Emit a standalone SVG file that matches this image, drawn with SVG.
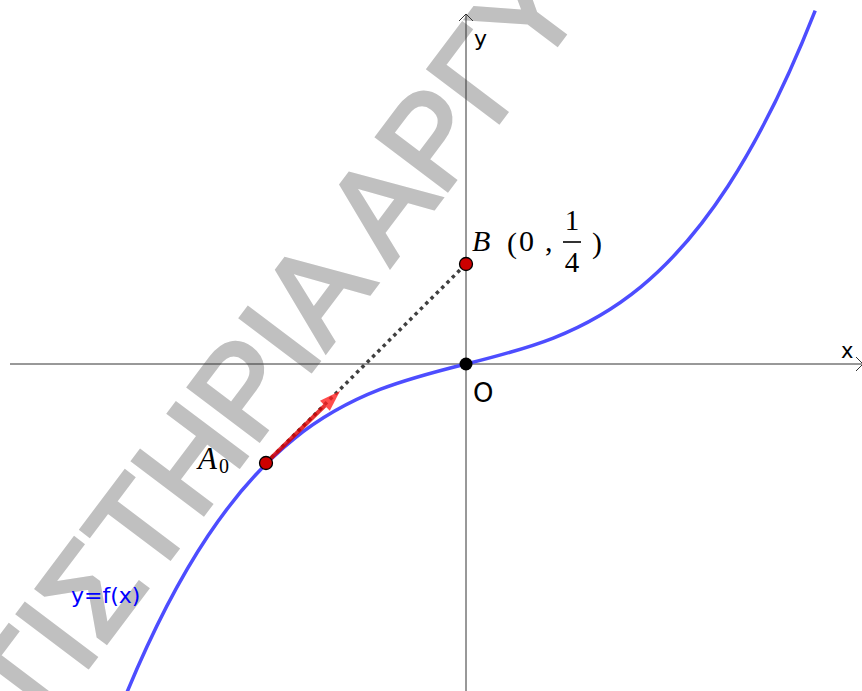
<svg xmlns="http://www.w3.org/2000/svg" width="862" height="691" viewBox="0 0 862 691">
<style>
.axis{stroke:#333;stroke-width:1;fill:none}
.lbl{font-family:"DejaVu Sans","Liberation Sans",sans-serif;fill:#000}
.math{font-family:"Liberation Serif","DejaVu Serif",serif;fill:#000}
.pt{stroke:#000;stroke-width:1.3}
.wm{font-family:"Liberation Sans",Arial,sans-serif;font-size:128px;fill:#c0c0c0;stroke:#c0c0c0;stroke-width:4;stroke-linejoin:miter}
</style>
<rect width="862" height="691" fill="#fff"/>
<g id="watermark">
<text class="wm" transform="translate(315,366) rotate(-53)" x="-466.7" y="0">ΤΙΣΤΗΡΙΑ ΑΡΓΥ</text>
</g>
<g id="axes">
<line class="axis" x1="10" y1="364" x2="862" y2="364"/>
<polyline class="axis" points="856,357 863,364 856,371"/>
<line class="axis" x1="466" y1="14" x2="466" y2="691"/>
<polyline class="axis" points="459,21 466,14 473,21"/>
<text class="lbl" x="474" y="46" font-size="22">y</text>
<text class="lbl" x="841" y="358" font-size="21">x</text>
</g>
<g id="curve">
<path d="M122,704.42 C353.07,133.96 584.13,596.64 815.2,10.56" fill="none" stroke="#4d4dff" stroke-width="3.5"/>
<text x="71" y="603" font-family="DejaVu Sans,sans-serif" font-size="22" fill="#0000ff">y=f(x)</text>
</g>
<g id="connectors">
<line x1="266" y1="463" x2="466" y2="264" stroke="#404040" stroke-width="3.5" stroke-dasharray="3.5 4"/>
<g id="vector" opacity="0.8">
<line x1="266" y1="463" x2="326" y2="404.5" stroke="#e00000" stroke-width="4"/>
<polygon points="340,391 329.8,410.7 320,400.7" fill="#ff2020"/>
</g>
</g>
<g id="A0">
<circle class="pt" cx="266" cy="463" r="6.5" fill="#cc0000"/>
<text class="math" x="198" y="469" font-size="31" font-style="italic">A</text>
<text class="math" x="219" y="473" font-size="20">0</text>
</g>
<g id="B">
<circle class="pt" cx="466" cy="264" r="6.5" fill="#cc0000"/>
<text class="math" x="472" y="251" font-size="30" font-style="italic">B</text>
<text class="math" x="507" y="253" font-size="30">(</text>
<text class="math" x="519" y="251" font-size="30">0</text>
<text class="math" x="545" y="251" font-size="30">,</text>
<text class="math" x="572" y="230" font-size="29" text-anchor="middle">1</text>
<line x1="563" y1="242" x2="581" y2="242" stroke="#000" stroke-width="1.6"/>
<text class="math" x="572" y="272" font-size="29" text-anchor="middle">4</text>
<text class="math" x="592" y="253" font-size="30">)</text>
</g>
<g id="O">
<circle cx="466" cy="364" r="6.5" fill="#000"/>
<text class="lbl" x="473" y="402" font-size="26">O</text>
</g>
</svg>
